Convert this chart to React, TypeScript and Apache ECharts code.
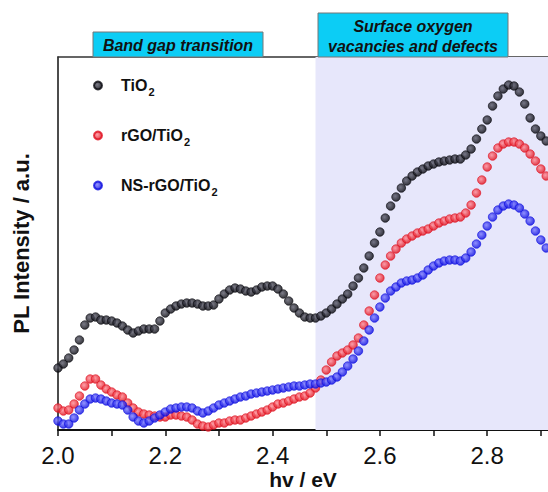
import React, { useEffect, useRef } from "react";
import * as echarts from "echarts";

const energies: number[] = [
  2.0, 2.01, 2.02, 2.03, 2.04, 2.05, 2.06, 2.07, 2.08, 2.09,
  2.1, 2.11, 2.12, 2.13, 2.14, 2.15, 2.16, 2.17, 2.18, 2.19,
  2.2, 2.21, 2.22, 2.23, 2.24, 2.25, 2.26, 2.27, 2.28, 2.29,
  2.3, 2.31, 2.32, 2.33, 2.34, 2.35, 2.36, 2.37, 2.38, 2.39,
  2.4, 2.41, 2.42, 2.43, 2.44, 2.45, 2.46, 2.47, 2.48, 2.49,
  2.5, 2.51, 2.52, 2.53, 2.54, 2.55, 2.56, 2.57, 2.58, 2.59,
  2.6, 2.61, 2.62, 2.63, 2.64, 2.65, 2.66, 2.67, 2.68, 2.69,
  2.7, 2.71, 2.72, 2.73, 2.74, 2.75, 2.76, 2.77, 2.78, 2.79,
  2.8, 2.81, 2.82, 2.83, 2.84, 2.85, 2.86, 2.87, 2.88, 2.89,
  2.9, 2.91,
];

// PL intensity (arbitrary units)
const tio2: number[] = [
  62, 66, 72, 80, 90, 105, 112, 113, 110, 110,
  109, 107, 104, 100, 97, 99, 101, 101, 101, 109,
  117, 121, 124, 126, 127, 127, 126, 124, 124, 125,
  131, 136, 140, 142, 141, 139, 138, 140, 143, 144,
  144, 141, 136, 129, 122, 117, 113, 112, 112, 114,
  117, 121, 126, 131, 136, 144, 152, 162, 174, 187,
  198, 212, 224, 233, 242, 249, 254, 258, 261, 264,
  266, 268, 269, 270, 271, 271, 275, 281, 291, 301,
  310, 324, 334, 341, 345, 344, 338, 326, 312, 301,
  294, 289,
];

const rgoTio2: number[] = [
  22, 19, 20, 26, 34, 44, 51, 51, 45, 41,
  38, 35, 33, 27, 22, 18, 16, 15, 14, 13,
  13, 15, 15, 14, 13, 10, 6, 4, 3, 5,
  7, 7, 9, 10, 10, 12, 14, 16, 18, 20,
  23, 26, 27, 29, 31, 33, 34, 37, 42, 50,
  60, 68, 74, 77, 80, 85, 92, 105, 119, 135,
  152, 165, 174, 181, 187, 191, 194, 197, 199, 201,
  204, 207, 209, 211, 212, 213, 217, 225, 237, 250,
  263, 274, 282, 286, 288, 288, 286, 282, 276, 269,
  261, 254,
];

const nsRgoTio2: number[] = [
  9, 6, 6, 12, 20, 26, 31, 32, 31, 29,
  27, 26, 25, 20, 13, 9, 7, 9, 12, 15,
  18, 21, 22, 23, 23, 22, 19, 17, 19, 22,
  25, 27, 29, 31, 33, 34, 36, 37, 38, 39,
  40, 41, 42, 43, 44, 44, 45, 46, 46, 47,
  48, 50, 53, 58, 64, 71, 79, 89, 100, 112,
  123, 132, 139, 143, 147, 149, 150, 152, 155, 160,
  164, 167, 169, 170, 170, 169, 172, 178, 186, 195,
  204, 213, 220, 224, 226, 225, 222, 216, 209, 199,
  190, 182,
];

const seriesNames = ["TiO2", "rGO/TiO2", "NS-rGO/TiO2"];
const xTicks = ["2.0", "2.2", "2.4", "2.6", "2.8"];

function sphere(light: string, dark: string) {
  return new echarts.graphic.RadialGradient(0.4, 0.4, 0.6, [
    { offset: 0, color: light },
    { offset: 1, color: dark },
  ]);
}

export default function App() {
  const ref = useRef<HTMLDivElement>(null);
  useEffect(() => {
    if (!ref.current) return;
    const chart = echarts.init(ref.current, undefined, { renderer: "svg" });
    const mk = (vals: number[]) => energies.map((e, i) => [e, vals[i]]);
    const xMax = 2 + 490 / 536.5;
    const font = "Arial, 'Liberation Sans', sans-serif";
    const option: any = {
      animation: false,
      backgroundColor: "#ffffff",
      textStyle: { fontFamily: font },
      grid: { left: 58, right: 0, top: 57, bottom: 62, containLabel: false, outerBoundsMode: "none" },
      legend: {
        orient: "vertical",
        left: 88,
        top: 69,
        itemGap: 27,
        itemWidth: 8,
        itemHeight: 8,
        icon: "circle",
        data: seriesNames,
        formatter: (name: string) => {
          const base = name.slice(0, -1);
          return "{a|" + base + "}{s|2}";
        },
        textStyle: {
          rich: {
            a: { fontSize: 16, fontWeight: "bold", color: "#111", fontFamily: font, lineHeight: 22, padding: [0, 0, 0, 14] },
            s: { fontSize: 11, fontWeight: "bold", color: "#111", fontFamily: font, lineHeight: 22, padding: [12, 0, 0, 1] },
          },
        },
      },
      xAxis: [
        {
          type: "value",
          min: 2.0,
          max: xMax,
          interval: 0.1,
          name: "hv / eV",
          nameLocation: "middle",
          nameGap: 39,
          nameMoveOverlap: false,
          nameTextStyle: { fontSize: 21, fontWeight: "bold", color: "#111", fontFamily: font },
          axisLine: { show: true, lineStyle: { color: "#111", width: 2 } },
          axisTick: { show: true, inside: false, length: 6, lineStyle: { color: "#111", width: 1.5 } },
          axisLabel: {
            showMaxLabel: false,
            fontSize: 24,
            color: "#111",
            fontFamily: font,
            margin: 13,
            formatter: (v: number) => {
              const s = v.toFixed(1);
              return xTicks.indexOf(s) >= 0 ? s : "";
            },
          },
          splitLine: { show: false },
        },
        {
          type: "value",
          position: "top",
          min: 2.0,
          max: xMax,
          axisLine: { show: true, lineStyle: { color: "#333", width: 1.5 } },
          axisTick: { show: false },
          axisLabel: { show: false },
          splitLine: { show: false },
        },
      ],
      yAxis: {
        type: "value",
        min: 0,
        max: 373,
        name: "PL Intensity / a.u.",
        nameLocation: "middle",
        nameGap: 26,
        nameMoveOverlap: false,
        nameTextStyle: { fontSize: 22, fontWeight: "bold", color: "#111", fontFamily: font },
        axisLine: { show: true, lineStyle: { color: "#111", width: 1.5 } },
        axisTick: { show: false },
        axisLabel: { show: false },
        splitLine: { show: false },
      },
      series: [
        {
          name: seriesNames[0],
          type: "scatter",
          symbolSize: 8.5,
          data: mk(tio2),
          itemStyle: { color: sphere("#5a5a6a", "#06060c"), borderColor: "#0a0a10", borderWidth: 0.8 },
          markArea: {
            silent: true,
            itemStyle: { color: "#e7e7fb" },
            data: [[{ xAxis: 2.48 }, { xAxis: xMax }]],
          },
          z: 3,
        },
        {
          name: seriesNames[1],
          type: "scatter",
          symbolSize: 8.5,
          data: mk(rgoTio2),
          itemStyle: { color: sphere("#ff8a94", "#e0101c"), borderColor: "#e01020", borderWidth: 0.8 },
          z: 3,
        },
        {
          name: seriesNames[2],
          type: "scatter",
          symbolSize: 8.5,
          data: mk(nsRgoTio2),
          itemStyle: { color: sphere("#7a7aff", "#0a0ae0"), borderColor: "#1010e0", borderWidth: 0.8 },
          z: 3,
        },
      ],
      graphic: [
        {
          type: "rect",
          shape: { x: 93, y: 32, width: 170, height: 25 },
          style: { fill: "#0ccdf5", stroke: "#777", lineWidth: 1 },
          z: 10,
        },
        {
          type: "text",
          x: 178,
          y: 45,
          style: {
            text: "Band gap transition",
            fill: "#111",
            font: "italic bold 16px " + font,
            align: "center",
            verticalAlign: "middle",
          },
          z: 11,
        },
        {
          type: "rect",
          shape: { x: 318, y: 13, width: 190, height: 44 },
          style: { fill: "#0ccdf5", stroke: "#777", lineWidth: 1 },
          z: 10,
        },
        {
          type: "text",
          x: 413,
          y: 36,
          style: {
            text: "Surface oxygen\nvacancies and defects",
            fill: "#111",
            font: "italic bold 16px " + font,
            lineHeight: 20,
            align: "center",
            verticalAlign: "middle",
          },
          z: 11,
        },
      ],
    };
    chart.setOption(option);
    return () => chart.dispose();
  }, []);
  return (
    <div
      ref={ref}
      style={{ position: "fixed", left: 0, top: 0, width: 548, height: 492, background: "#fff" }}
    />
  );
}
